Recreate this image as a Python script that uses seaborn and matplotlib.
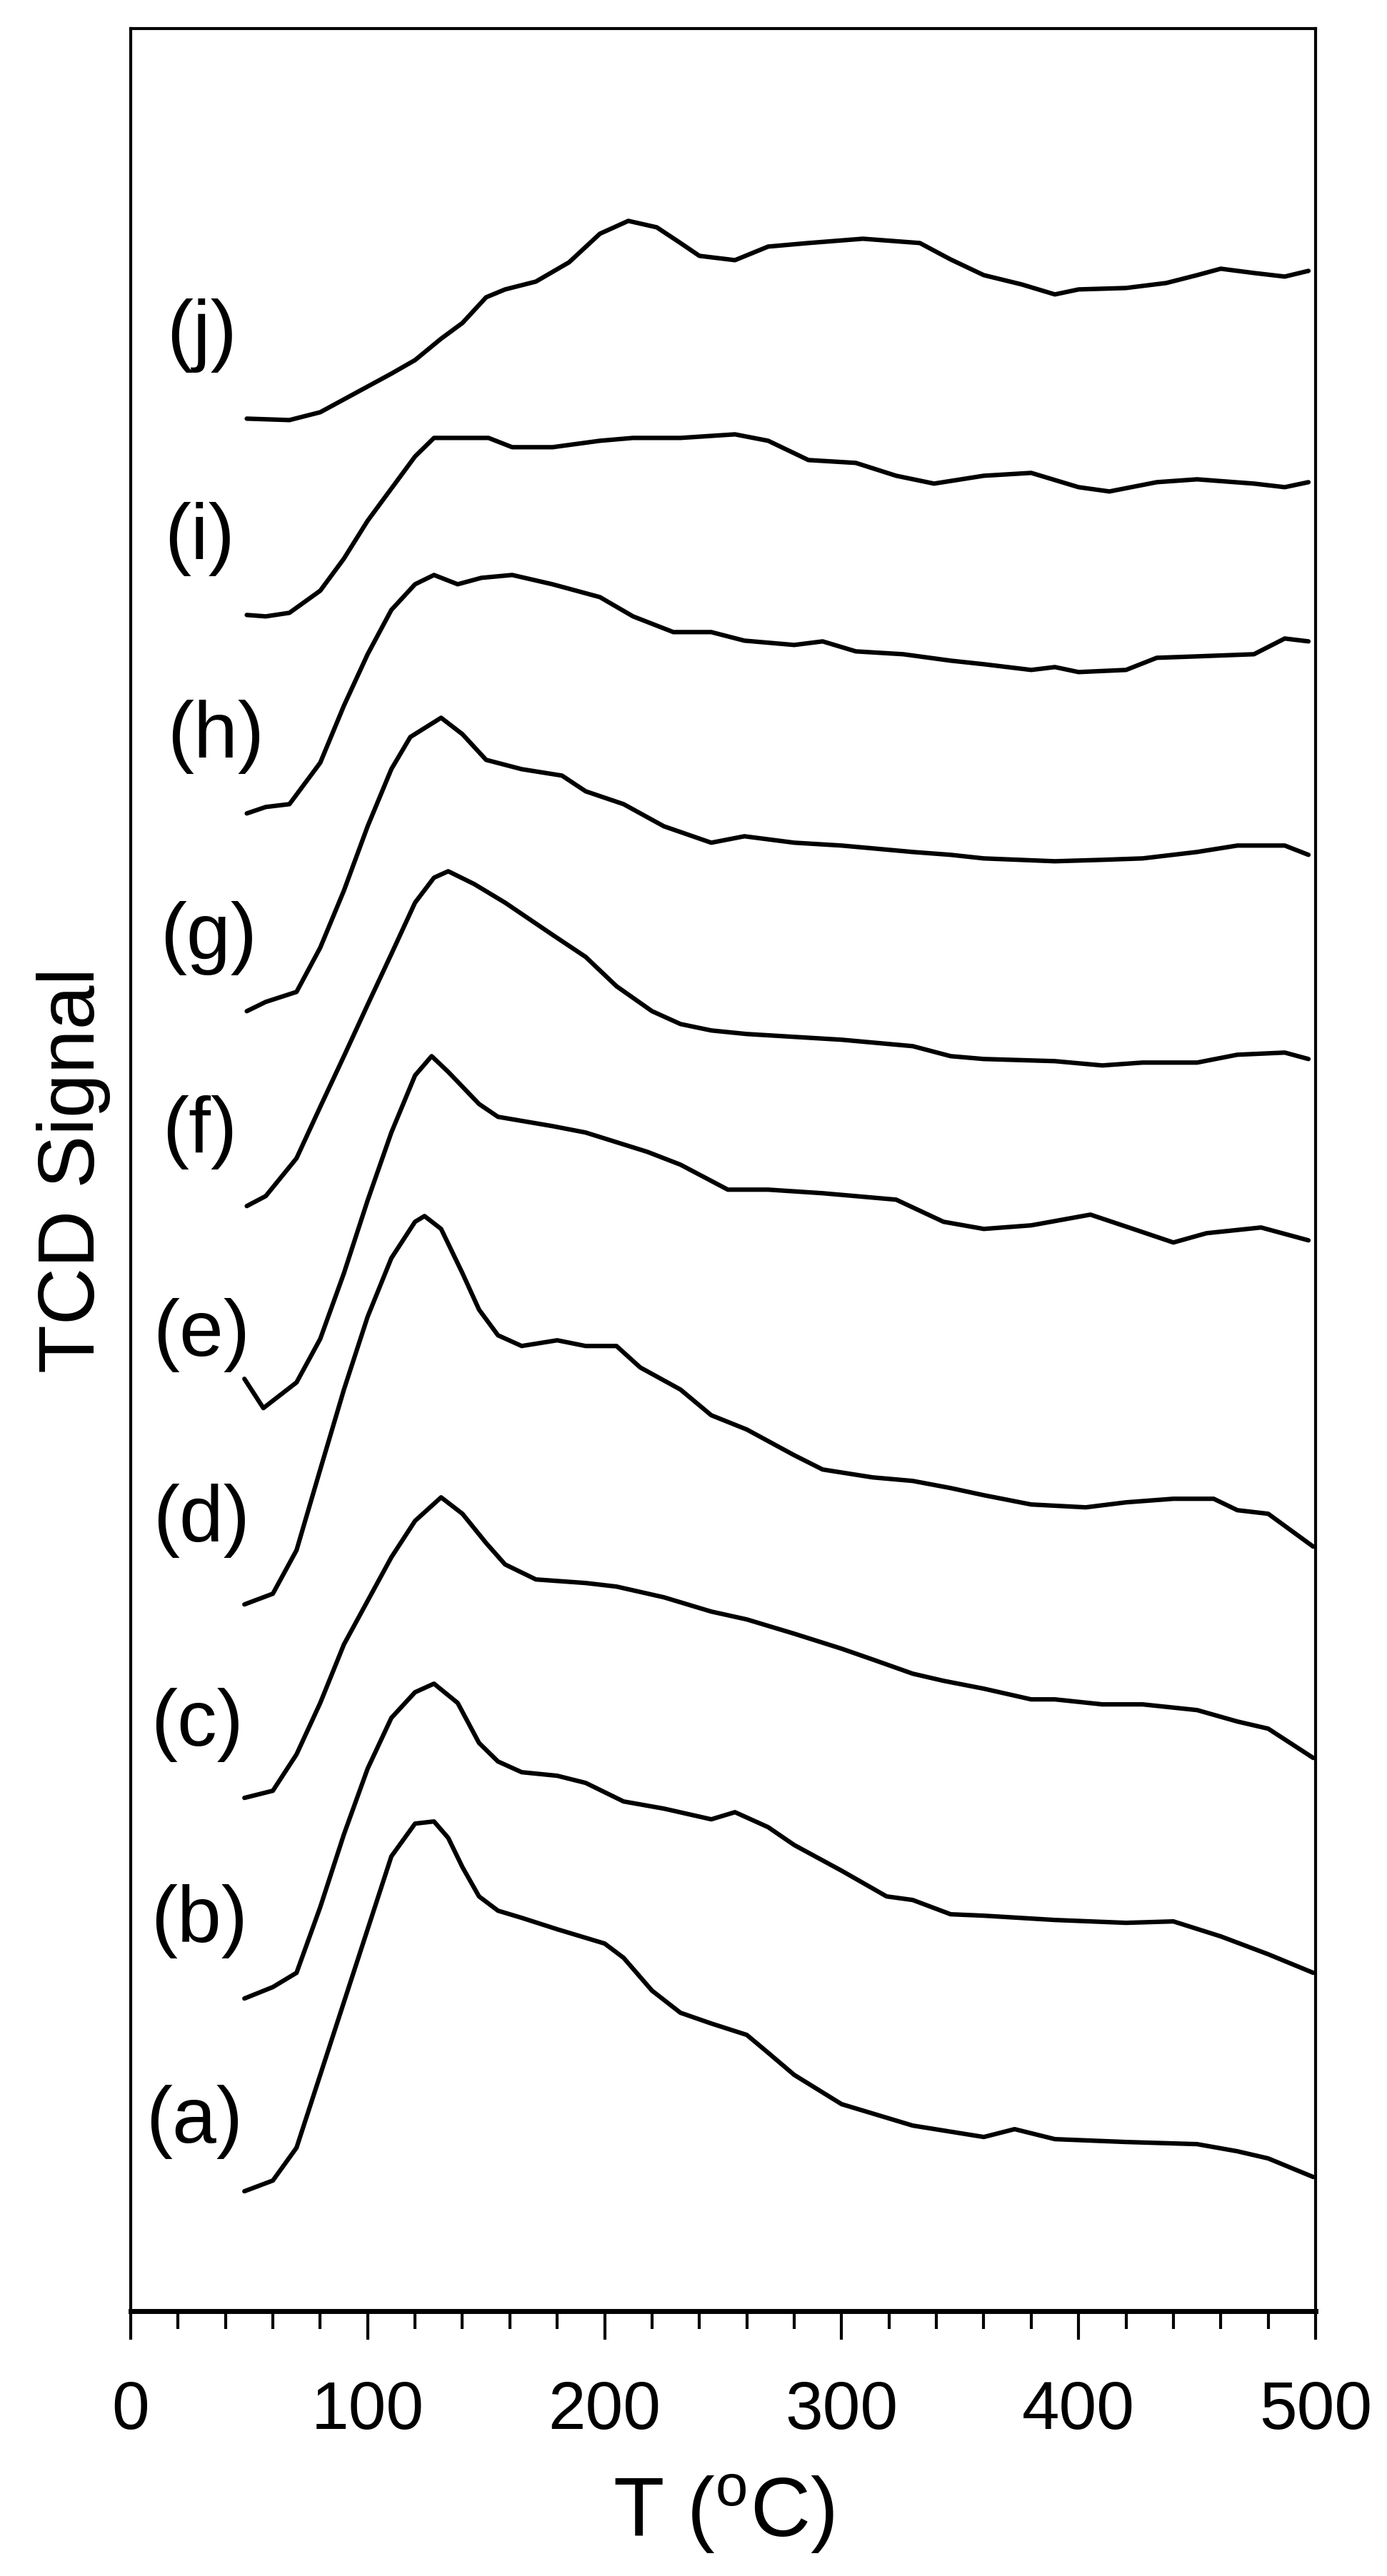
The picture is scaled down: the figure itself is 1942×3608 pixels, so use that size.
import matplotlib
matplotlib.use("Agg")
import matplotlib.pyplot as plt
import seaborn as sns
from matplotlib.ticker import MultipleLocator

# TPR traces, temperature (°C) vs stacked TCD signal (a.u.)
t_a = [48, 60, 70, 80, 90, 100, 110, 120, 128, 134, 140, 147, 155, 165, 180, 200, 208, 220, 232, 245,
       260, 269, 280, 300, 330, 360, 373, 390, 420, 450, 467, 480, 499]
s_a = [168, 183, 229, 331, 433, 535, 637, 683, 686, 663, 622, 581, 561, 551, 535, 515, 495, 449, 418, 403,
       387, 362, 331, 290, 260, 244, 255, 241, 237, 234, 224, 214, 188]

t_b = [48, 60, 70, 80, 90, 100, 110, 120, 128, 138, 147, 155, 165, 180, 192, 208, 225, 245, 255, 269,
       280, 300, 319, 330, 346, 360, 390, 420, 440, 460, 480, 499]
s_b = [438, 454, 474, 566, 668, 760, 831, 867, 879, 852, 796, 770, 755, 750, 740, 714, 704, 689, 699, 678,
       653, 617, 581, 576, 556, 554, 548, 544, 546, 525, 500, 474]

t_c = [48, 60, 70, 80, 90, 100, 110, 120, 131, 140, 150, 158, 171, 192, 205, 225, 245, 260, 280, 300,
       313, 330, 343, 360, 380, 390, 410, 427, 450, 467, 480, 499]
s_c = [719, 729, 780, 852, 934, 995, 1056, 1107, 1140, 1117, 1076, 1046, 1025, 1020, 1015, 1000, 980, 969, 949, 928,
       913, 893, 883, 872, 857, 857, 850, 850, 842, 826, 816, 775]

t_d = [48, 60, 70, 80, 90, 100, 110, 120, 124, 131, 140, 147, 155, 165, 180, 192, 205, 215, 232, 245,
       260, 280, 292, 313, 330, 346, 360, 380, 403, 420, 440, 457, 467, 480, 499]
s_d = [990, 1005, 1066, 1179, 1291, 1393, 1475, 1526, 1534, 1516, 1454, 1403, 1367, 1352, 1360, 1352, 1352, 1322, 1291, 1255,
       1235, 1199, 1179, 1168, 1163, 1153, 1143, 1130, 1126, 1133, 1138, 1138, 1122, 1117, 1071]

t_e = [48, 56, 70, 80, 90, 100, 110, 120, 127, 134, 147, 155, 178, 192, 218, 232, 252, 269, 292, 323,
       343, 360, 380, 405, 423, 440, 454, 477, 497]
s_e = [1306, 1265, 1301, 1362, 1454, 1556, 1651, 1731, 1758, 1736, 1691, 1673, 1660, 1651, 1624, 1606, 1571, 1571, 1566, 1557,
       1526, 1516, 1521, 1536, 1516, 1497, 1510, 1518, 1500]

t_f = [49, 57, 70, 80, 90, 100, 110, 120, 128, 134, 145, 158, 178, 192, 205, 220, 232, 245, 260, 280,
       300, 330, 346, 360, 390, 410, 427, 450, 467, 487, 497]
s_f = [1548, 1562, 1615, 1687, 1758, 1830, 1901, 1973, 2008, 2017, 1999, 1973, 1928, 1897, 1856, 1821, 1803, 1794, 1789, 1785,
       1781, 1772, 1758, 1754, 1751, 1745, 1749, 1749, 1760, 1763, 1754]

t_g = [49, 57, 70, 80, 90, 100, 110, 118, 131, 140, 150, 165, 182, 192, 208, 225, 245, 259, 280, 300,
       330, 346, 360, 390, 410, 427, 450, 467, 487, 497]
s_g = [1821, 1834, 1848, 1910, 1990, 2080, 2160, 2205, 2232, 2209, 2173, 2160, 2151, 2129, 2111, 2080, 2057, 2066, 2057, 2053,
       2044, 2040, 2035, 2031, 2033, 2035, 2044, 2053, 2053, 2040]

t_h = [49, 57, 67, 80, 90, 100, 110, 120, 128, 138, 148, 161, 178, 198, 212, 229, 245, 259, 280, 292,
       306, 326, 346, 360, 380, 390, 400, 420, 433, 450, 474, 487, 497]
s_h = [2098, 2107, 2111, 2169, 2249, 2321, 2383, 2419, 2432, 2419, 2428, 2432, 2419, 2401, 2374, 2352, 2352, 2340, 2334, 2339,
       2325, 2321, 2312, 2307, 2299, 2303, 2296, 2299, 2316, 2318, 2321, 2343, 2339]

t_i = [49, 57, 67, 80, 90, 100, 110, 120, 128, 138, 151, 161, 178, 198, 212, 232, 255, 269, 286, 306,
       323, 339, 360, 380, 400, 413, 433, 450, 474, 487, 497]
s_i = [2376, 2374, 2379, 2410, 2455, 2508, 2553, 2598, 2624, 2624, 2624, 2611, 2611, 2620, 2624, 2624, 2629, 2620, 2593, 2589,
       2571, 2560, 2571, 2575, 2555, 2549, 2562, 2566, 2560, 2555, 2562]

t_j = [49, 67, 80, 90, 100, 110, 120, 131, 140, 150, 158, 171, 185, 198, 210, 222, 232, 240, 255, 269,
       286, 309, 333, 346, 360, 376, 390, 400, 420, 437, 450, 460, 474, 487, 497]
s_j = [2651, 2649, 2660, 2678, 2696, 2714, 2733, 2763, 2785, 2821, 2832, 2843, 2870, 2910, 2928, 2919, 2897, 2879, 2873, 2892,
       2897, 2903, 2897, 2874, 2852, 2839, 2825, 2832, 2834, 2841, 2852, 2861, 2855, 2850, 2858]

labels = ["(a)", "(b)", "(c)", "(d)", "(e)", "(f)", "(g)", "(h)", "(i)", "(j)"]
label_t = [27, 29, 28, 30, 30, 29, 33, 36, 29, 30]
label_s = [265, 546, 821, 1107, 1367, 1651, 1923, 2205, 2482, 2767]

curves = [(t_a, s_a), (t_b, s_b), (t_c, s_c), (t_d, s_d), (t_e, s_e),
          (t_f, s_f), (t_g, s_g), (t_h, s_h), (t_i, s_i), (t_j, s_j)]

sns.set_theme(style="white")
plt.rcParams['font.family'] = ['Liberation Sans', 'DejaVu Sans']

fig = plt.figure(figsize=(19.42, 36.08), dpi=100)
ax = fig.add_axes([0.0942, 0.1028, 0.8543, 0.886])

for t, s in curves:
    sns.lineplot(x=t, y=s, ax=ax, color="black", linewidth=4.5, sort=False, estimator=None)

for lab, lt, ls in zip(labels, label_t, label_s):
    ax.text(lt, ls, lab, fontsize=80, ha="center", va="center", color="black")

ax.set_xlim(0, 500)
ax.set_ylim(0, 3197)
ax.set_yticks([])
ax.xaxis.set_major_locator(MultipleLocator(100))
ax.xaxis.set_minor_locator(MultipleLocator(20))
ax.tick_params(axis="x", which="major", direction="out", length=29, width=3, labelsize=68, pad=40,
               bottom=True, color="black", labelcolor="black")
ax.tick_params(axis="x", which="minor", direction="out", length=18, width=3, bottom=True, color="black")
for sp in ax.spines.values():
    sp.set_visible(True)
    sp.set_color("black")
    sp.set_linewidth(3)
ax.spines["bottom"].set_linewidth(5)

ax.set_xlabel("T ($\\mathregular{^{o}}$C)", fontsize=84, labelpad=30, color="black")
ax.set_ylabel("TCD Signal", fontsize=80, labelpad=20, color="black")

fig.savefig("out.png", dpi=100)
